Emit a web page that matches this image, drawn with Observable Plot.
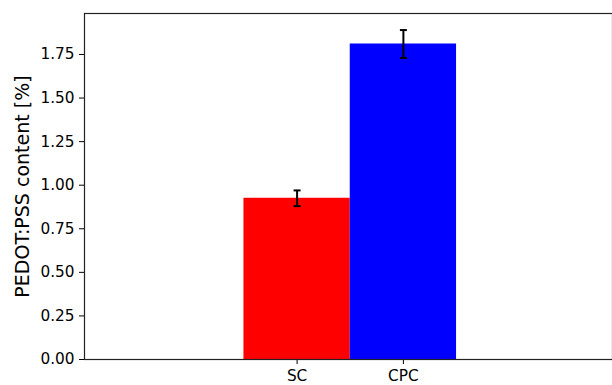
<!DOCTYPE html>
<html>
<head>
<meta charset="utf-8">
<script src="https://cdn.jsdelivr.net/npm/d3@7"></script>
<script src="https://cdn.jsdelivr.net/npm/@observablehq/plot@0.6"></script>
<style>
  html, body { margin: 0; padding: 0; background: white; overflow: hidden; }
  svg { display: block; }
</style>
</head>
<body>
<div id="chart"></div>
<script>
const categories = ["SC", "CPC"];
const values = [0.925, 1.81];
const errors = [0.045, 0.08];
const colors = ["#ff0000", "#0000ff"];
const yTicks = [0, 0.25, 0.5, 0.75, 1.0, 1.25, 1.5, 1.75];
const yLabel = "PEDOT:PSS content [%]";

const data = categories.map((c, i) => ({
  i, cat: c, value: values[i], err: errors[i], color: colors[i]
}));

const capSymbol = {
  draw(ctx, size) {
    const r = 3.5;
    ctx.moveTo(-r, 0);
    ctx.lineTo(r, 0);
  }
};

const font = "DejaVu Sans, sans-serif";

const chart = Plot.plot({
  width: 612,
  height: 385,
  marginLeft: 84,
  marginTop: 13,
  marginBottom: 26,
  marginRight: 0,
  style: { fontFamily: font, fontSize: "15.3px", color: "black", background: "white", overflow: "hidden" },
  x: {
    type: "linear",
    domain: [-2, 3],
    range: [84, 615.5],
    ticks: [0, 1],
    tickFormat: d => categories[d],
    tickSize: 5,
    tickPadding: 6,
    label: null
  },
  y: {
    domain: [0, 1.985],
    ticks: yTicks,
    tickFormat: d3.format(".2f"),
    tickSize: 5,
    tickPadding: 5,
    label: null
  },
  marks: [
    Plot.rectY(data, {
      x1: d => d.i - 0.5,
      x2: d => d.i + 0.5,
      y1: 0,
      y2: "value",
      fill: d => d.color
    }),
    Plot.ruleX(data, {
      x: "i",
      y1: d => d.value - d.err,
      y2: d => d.value + d.err,
      stroke: "black",
      strokeWidth: 2
    }),
    Plot.dot(data, {
      x: "i",
      y: d => d.value + d.err,
      symbol: capSymbol,
      stroke: "black",
      strokeWidth: 2,
      fill: "none"
    }),
    Plot.dot(data, {
      x: "i",
      y: d => d.value - d.err,
      symbol: capSymbol,
      stroke: "black",
      strokeWidth: 2,
      fill: "none"
    }),
    Plot.frame({ stroke: "#222", strokeWidth: 1.2 }),
    Plot.text([yLabel], {
      frameAnchor: "left",
      textAnchor: "middle",
      dx: -62,
      rotate: -90,
      fontSize: 19,
      fill: "black"
    })
  ]
});

document.getElementById("chart").appendChild(chart);
</script>
</body>
</html>
